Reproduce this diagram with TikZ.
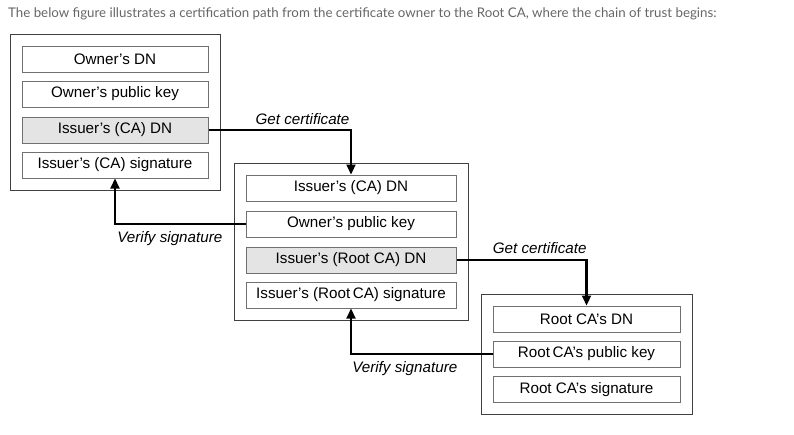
\documentclass[tikz,border=0pt]{standalone}
\usepackage{fontspec}
\setmainfont{Liberation Sans}
\newfontfamily\titlefont{Lato}
\usetikzlibrary{arrows.meta,fit}

\definecolor{fieldline}{HTML}{707070}
\definecolor{fieldgray}{HTML}{E4E4E4}
\definecolor{boxline}{HTML}{404040}
\definecolor{titlegray}{HTML}{666666}

\begin{document}
\begin{tikzpicture}[x=1pt,y=-1pt,
    field/.style={draw=fieldline, line width=1pt, fill=white, minimum height=26pt,
        inner sep=0pt, font=\fontsize{15.2}{18}\selectfont},
    grayfield/.style={field, fill=fieldgray},
    outerbox/.style={draw=boxline, line width=0.9pt, inner sep=11.5pt},
    link/.style={line width=2.2pt, -{Triangle[length=10pt,width=9pt]}},
    linklabel/.style={font=\fontsize{15.2}{18}\itshape, inner sep=1pt}]
    \useasboundingbox (0,0) rectangle (794,434);

    % title
    \node[anchor=west, text=titlegray, font=\titlefont\fontsize{13.3}{15}\selectfont, inner sep=0pt]
        (title) at (8,14) {The below figure illustrates a certification path from the certificate owner to the Root CA, where the chain of trust begins:};

    % owner's certificate
    \node[field, minimum width=186pt] (ownerdn) at (115,59) {Owner’s DN};
    \node[field, minimum width=186pt] (ownerkey) at (115,94) {Owner’s public key};
    \node[grayfield, minimum width=186pt] (ownerissuer) at (115,130) {Issuer’s (CA) DN};
    \node[field, minimum width=186pt] (ownersig) at (115,165) {Issuer’s (CA) signature};
    \node[outerbox, fit=(ownerdn) (ownersig)] (ownercert) {};

    % CA certificate
    \node[field, minimum width=210pt] (cadn) at (351,188) {Issuer’s (CA) DN};
    \node[field, minimum width=210pt] (cakey) at (351,224) {Owner’s public key};
    \node[grayfield, minimum width=210pt] (caissuer) at (351,260) {Issuer’s (Root CA) DN};
    \node[field, minimum width=210pt] (casig) at (351,295) {Issuer’s (Root\,CA) signature};
    \node[outerbox, fit=(cadn) (casig)] (cacert) {};

    % root CA certificate
    \node[field, minimum width=187pt] (rootdn) at (586.5,319) {Root CA’s DN};
    \node[field, minimum width=187pt] (rootkey) at (586.5,354) {Root\,CA’s public key};
    \node[field, minimum width=187pt] (rootsig) at (586.5,389.5) {Root CA’s signature};
    \node[outerbox, fit=(rootdn) (rootsig)] (rootcert) {};

    % get certificate / verify signature
    \draw[link] (ownerissuer.east) -| node[linklabel, pos=0.33, above=3pt] {Get certificate} (cadn.north);
    \draw[link] (cakey.west) -| node[linklabel, pos=0.29, below=5pt] {Verify signature} (ownersig.south);
    \draw[link] (caissuer.east) -| node[linklabel, pos=0.32, above=4pt] {Get certificate} (rootdn.north);
    \draw[link] (rootkey.west) -| node[linklabel, pos=0.31, below=5pt] {Verify signature} (casig.south);
\end{tikzpicture}
\end{document}
